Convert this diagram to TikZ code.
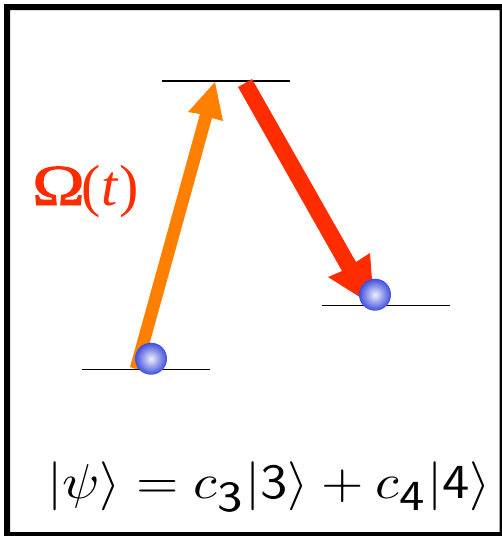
\documentclass[tikz,border=0pt]{standalone}
\usepackage{fontspec}
\usepackage{amsmath}
\usepackage{graphicx}
\newfontfamily\timesfont{Liberation Serif}
\newfontfamily\omegafont[FakeBold=1.6]{Liberation Serif}
\definecolor{arrorange}{RGB}{255,128,0}
\definecolor{arrred}{RGB}{255,44,0}
\definecolor{ballblue}{RGB}{62,78,220}
\definecolor{ballcore}{RGB}{238,238,252}
\tikzset{
  x=1pt,y=-1pt,
  level/.style={draw=black,line width=1.9pt},
  ball/.style={circle,minimum size=32pt,inner sep=0pt,shading=radial,inner color=ballcore,outer color=ballblue}
}
\newcommand{\bigsub}[1]{\mathsf{\scalebox{1.25}{$\scriptstyle\mathsf{#1}$}}}
\begin{document}
\begin{tikzpicture}
\useasboundingbox (0,0) rectangle (502,536);
\fill[black,even odd rule] (4,4) rectangle (502,536) (10,10) rectangle (499.7,532);
% levels
\coordinate (t1) at (162,81); \coordinate (t2) at (290,81);
\coordinate (l1) at (82,369.5); \coordinate (l2) at (210,369.5);
\coordinate (r1) at (322,305.5); \coordinate (r2) at (450,305.5);
% arrows
\fill[arrorange] (130,367) -- (200,114) -- (188,112) -- (215,82) -- (223,121) -- (212,118) -- (142,371) -- cycle;
\draw[level] (t1) -- (t2);
\draw[level] (l1) -- (l2);
\draw[level] (r1) -- (r2);
\fill[arrred] (238,87) -- (252,79) -- (356,262) -- (370,253) -- (374,306) -- (328,277) -- (342,271) -- cycle;
\node[ball] (bl) at (151,358.7) {};
\node[ball] (br) at (375,294.7) {};
\node[text=arrred,font=\timesfont\fontsize{58}{58}\selectfont,anchor=base west,inner sep=0pt] (om) at (32,205) {\scalebox{1.22}[1]{\omegafont Ω}\kern-3pt(\textit{t}\kern1pt)};
\node[anchor=center,inner sep=0pt] (eq) at (269,487) {\scalebox{5.45}[4.9]{$|\psi\rangle = c_{\bigsub{3}}|\mathsf{3}\rangle + c_{\bigsub{4}}|\mathsf{4}\rangle$}};
\end{tikzpicture}
\end{document}
